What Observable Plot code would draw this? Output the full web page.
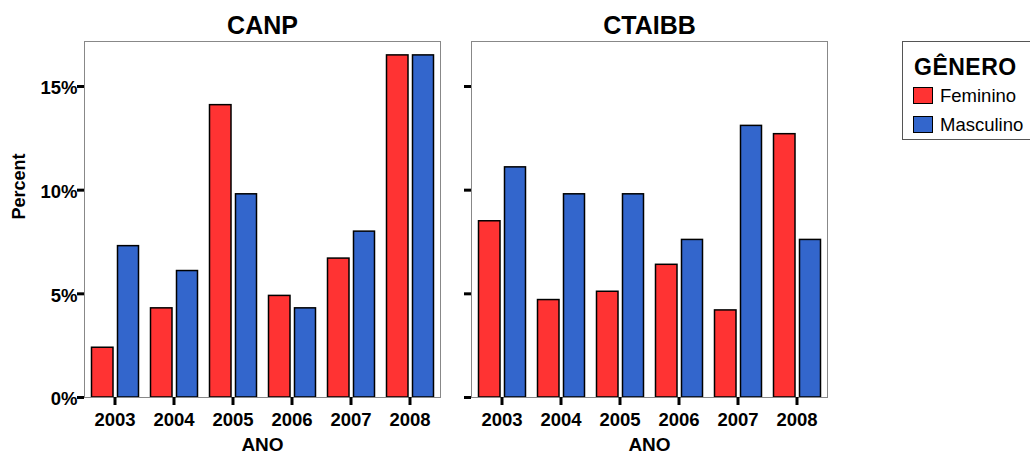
<!DOCTYPE html>
<html>
<head>
<meta charset="utf-8">
<script src="https://cdn.jsdelivr.net/npm/d3@7"></script>
<script src="https://cdn.jsdelivr.net/npm/@observablehq/plot@0.6"></script>
<style>
  html, body { margin: 0; padding: 0; background: #fff; }
  #wrap { position: relative; width: 1030px; height: 455px; overflow: hidden; }
  #legend {
    position: absolute; left: 902px; top: 41px; width: 140px; height: 99px;
    border: 1px solid #555; box-sizing: border-box; background: #fff;
    font-family: "Liberation Sans", Arial, sans-serif;
  }
  #legend .t { position: absolute; left: 11px; top: 12px; font-size: 23px; line-height: 26px; font-weight: bold; letter-spacing: 0.5px; }
  #legend .row { position: absolute; left: 10px; height: 18px; font-size: 18.5px; line-height: 18px; white-space: nowrap; }
  #legend .sw { display: inline-block; width: 18px; height: 15px; border: 1px solid #000; vertical-align: top; margin-right: 7px; }
</style>
</head>
<body>
<div id="wrap"></div>
<script>
const years = ["2003", "2004", "2005", "2006", "2007", "2008"];
const panels = ["CANP", "CTAIBB"];
const genders = ["Feminino", "Masculino"];
const colors = ["#ff3333", "#3366cc"];
const canpFeminino = [2.4, 4.3, 14.1, 4.9, 6.7, 16.5];
const canpMasculino = [7.3, 6.1, 9.8, 4.3, 8.0, 16.5];
const ctaibbFeminino = [8.5, 4.7, 5.1, 6.4, 4.2, 12.7];
const ctaibbMasculino = [11.1, 9.8, 9.8, 7.6, 13.1, 7.6];
const yTicks = [0, 5, 10, 15];

const series = [
  [panels[0], genders[0], canpFeminino],
  [panels[0], genders[1], canpMasculino],
  [panels[1], genders[0], ctaibbFeminino],
  [panels[1], genders[1], ctaibbMasculino]
];
const data = [];
for (const [panel, gender, vals] of series) {
  vals.forEach((v, i) => data.push({panel, gender, year: years[i], value: v}));
}
const panelRows = panels.map(p => ({panel: p}));

const chart = Plot.plot({
  width: 1030,
  height: 455,
  marginLeft: 84,
  marginRight: 202,
  marginTop: 41,
  marginBottom: 58,
  style: {fontFamily: "'Liberation Sans', Arial, sans-serif", fontWeight: "bold", color: "#000", background: "#fff"},
  fx: {domain: panels, paddingInner: 0.08, paddingOuter: 0, label: null},
  x: {domain: years, padding: 0, label: null},
  y: {domain: [0, 17.17], label: null},
  color: {domain: genders, range: colors},
  marks: [
    Plot.barY(data.filter(d => d.gender === genders[0]), {
      fx: "panel", x: "year", y: "value", fill: "gender",
      stroke: "#000", strokeWidth: 1.5, insetLeft: 6.5, insetRight: 31
    }),
    Plot.barY(data.filter(d => d.gender === genders[1]), {
      fx: "panel", x: "year", y: "value", fill: "gender",
      stroke: "#000", strokeWidth: 1.5, insetLeft: 32.5, insetRight: 5.5
    }),
    Plot.frame({stroke: "#888", strokeWidth: 1}),
    Plot.axisFx({anchor: "top", label: null, tickSize: 0, tickPadding: 8, fontSize: 25}),
    Plot.axisX({anchor: "bottom", label: null, tickSize: 8, strokeWidth: 3, tickPadding: 7, fontSize: 18.5}),
    Plot.axisY({anchor: "left", ticks: yTicks, facetAnchor: null, tickSize: 7, strokeWidth: 3, tickFormat: () => "", label: null}),
    Plot.axisY({anchor: "left", ticks: yTicks, facetAnchor: "left", tickSize: 7, tickPadding: 0, strokeWidth: 0, tickFormat: d => d + "%", fontSize: 18.5, dy: 2, label: null}),
    Plot.text(panelRows, {fx: "panel", text: () => "ANO", frameAnchor: "bottom", dy: 53, fontSize: 19, fontWeight: "bold"}),
    Plot.text(panelRows.filter(d => d.panel === panels[0]), {fx: "panel", text: () => "Percent", frameAnchor: "left", rotate: -90, dx: -65, fontSize: 18, fontWeight: "bold"})
  ]
});
document.getElementById("wrap").appendChild(chart);

const legend = document.createElement("div");
legend.id = "legend";
legend.innerHTML = `<div class="t">GÊNERO</div>` +
  genders.map((g, i) => `<div class="row" style="top:${45 + i * 28.5}px"><span class="sw" style="background:${colors[i]}"></span>${g}</div>`).join("");
document.getElementById("wrap").appendChild(legend);
</script>
</body>
</html>
